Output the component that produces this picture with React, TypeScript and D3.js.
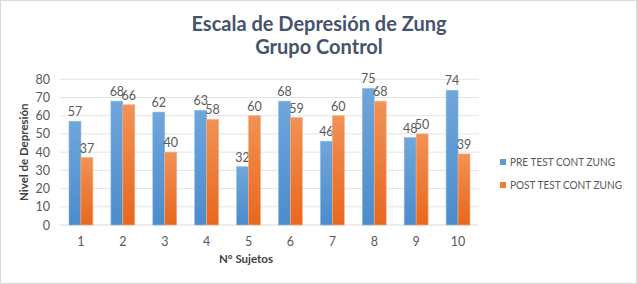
import React from "react";
import * as d3 from "d3";

const categories = ["1", "2", "3", "4", "5", "6", "7", "8", "9", "10"];
const preValues = [57, 68, 62, 63, 32, 68, 46, 75, 48, 74];
const postValues = [37, 66, 40, 58, 60, 59, 60, 68, 50, 39];
const seriesNames = ["PRE TEST CONT ZUNG", "POST TEST CONT ZUNG"];
const yTicks = [0, 10, 20, 30, 40, 50, 60, 70, 80];

const W = 637;
const H = 284;
const FONT = "Lato, 'Open Sans', sans-serif";

export default function App() {
  const x = d3.scaleBand<string>().domain(categories).range([60, 479]).paddingInner(0.43).paddingOuter(0.215);
  const y = d3.scaleLinear().domain([0, 80]).range([225, 79.3]);
  const barW = x.bandwidth() / 2;
  const series = [preValues, postValues];
  const gradIds = ["gBlue", "gOrange"];
  const legendLen = [105, 112];
  return (
    <svg width={W} height={H} style={{ position: "absolute", left: 0, top: 0 }}>
      <defs>
        <linearGradient id="gBlue" x1="0" y1="0" x2="0" y2="1">
          <stop offset="0" stopColor="#6FA6DC" />
          <stop offset="1" stopColor="#4C8CCB" />
        </linearGradient>
        <linearGradient id="gOrange" x1="0" y1="0" x2="0" y2="1">
          <stop offset="0" stopColor="#F19256" />
          <stop offset="1" stopColor="#E8671C" />
        </linearGradient>
      </defs>
      <rect x={0.5} y={0.5} width={W - 1} height={H - 1} fill="#ffffff" stroke="#D9D9D9" />
      <text x={319} y={31} textAnchor="middle" fontFamily={FONT} fontWeight="bold" fontSize={20} fill="#44546A">
        Escala de Depresión de Zung
      </text>
      <text x={319} y={54} textAnchor="middle" fontFamily={FONT} fontWeight="bold" fontSize={20} fill="#44546A">
        Grupo Control
      </text>
      {yTicks.map((t) => (
        <g key={t}>
          <line x1={60} x2={479} y1={y(t)} y2={y(t)} stroke={t === 0 ? "#D9D9D9" : "#E3E3E3"} strokeWidth={1} />
          <text x={50} y={y(t) + 4.5} textAnchor="end" fontFamily={FONT} fontSize={12.5} fill="#595959">
            {t}
          </text>
        </g>
      ))}
      {categories.map((c, i) => (
        <g key={c}>
          {series.map((vals, s) => {
            const bx = (x(c) as number) + s * barW;
            return (
              <g key={s}>
                <rect
                  x={bx}
                  y={y(vals[i])}
                  width={barW}
                  height={y(0) - y(vals[i])}
                  fill={`url(#${gradIds[s]})`}
                  stroke={s === 0 ? "#8DBBE6" : "#F5AE82"}
                  strokeWidth={0.6}
                />
                <text x={bx + barW / 2} y={y(vals[i]) - 5} textAnchor="middle" fontFamily={FONT} fontSize={12.5} fill="#595959">
                  {vals[i]}
                </text>
              </g>
            );
          })}
          <text x={(x(c) as number) + x.bandwidth() / 2} y={246} textAnchor="middle" fontFamily={FONT} fontSize={12.5} fill="#595959">
            {c}
          </text>
        </g>
      ))}
      <text x={246} y={263} textAnchor="middle" fontFamily={FONT} fontWeight="bold" fontSize={11.5} fill="#404040">
        N° Sujetos
      </text>
      <text transform={`translate(28,${y(40)}) rotate(-90)`} textAnchor="middle" fontFamily={FONT} fontWeight="bold" fontSize={11.5} fill="#404040">
        Nivel de Depresión
      </text>
      {seriesNames.map((n, i) => (
        <g key={n}>
          <rect x={500} y={159 + i * 23} width={6} height={6} fill={i === 0 ? "#5B9BD5" : "#ED7D31"} />
          <text
            x={510}
            y={165.5 + i * 23}
            fontFamily={FONT}
            fontSize={11.5}
            fill="#595959"
            textLength={legendLen[i]}
            lengthAdjust="spacingAndGlyphs"
          >
            {n}
          </text>
        </g>
      ))}
    </svg>
  );
}
